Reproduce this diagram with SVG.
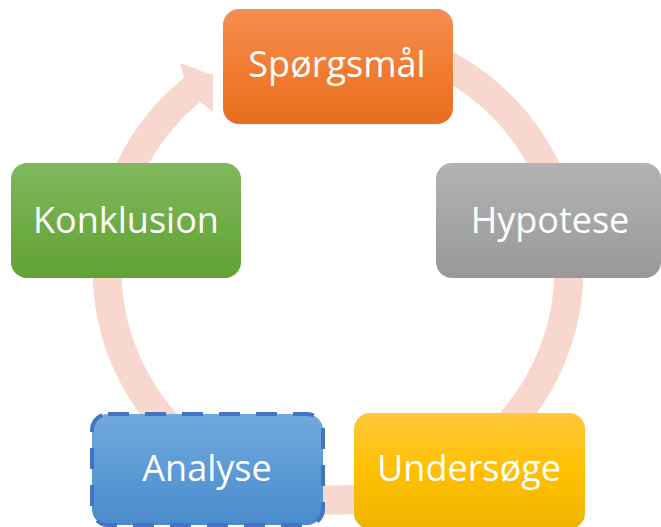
<svg xmlns="http://www.w3.org/2000/svg" width="661" height="527" viewBox="0 0 661 527">
<defs>
<linearGradient id="gOrange" x1="0" y1="0" x2="0" y2="1"><stop offset="0" stop-color="#F48E51"/><stop offset="0.5" stop-color="#F17D32"/><stop offset="1" stop-color="#E86E1E"/></linearGradient>
<linearGradient id="gGrey" x1="0" y1="0" x2="0" y2="1"><stop offset="0" stop-color="#B2B2B2"/><stop offset="0.5" stop-color="#A6A6A6"/><stop offset="1" stop-color="#989898"/></linearGradient>
<linearGradient id="gGreen" x1="0" y1="0" x2="0" y2="1"><stop offset="0" stop-color="#7FB85E"/><stop offset="0.5" stop-color="#70AD47"/><stop offset="1" stop-color="#62A134"/></linearGradient>
<linearGradient id="gBlue" x1="0" y1="0" x2="0" y2="1"><stop offset="0" stop-color="#70A8DD"/><stop offset="0.5" stop-color="#5C9BD6"/><stop offset="1" stop-color="#4A8BCD"/></linearGradient>
<linearGradient id="gYellow" x1="0" y1="0" x2="0" y2="1"><stop offset="0" stop-color="#FFC73D"/><stop offset="0.5" stop-color="#FFC000"/><stop offset="1" stop-color="#EDB400"/></linearGradient>
</defs>
<style>
.ring{fill:none;stroke:#F8D8CE;stroke-width:29}
.head{fill:#F8D8CE}
.lbl{font-family:"Open Sans","Liberation Sans",sans-serif;font-size:36px;fill:#FFFFFF;text-anchor:middle}
</style>
<g id="connectors">
<path class="ring" d="M 358.1 38.9 A 231 231 0 1 1 192.6 89.5"/>
<polygon class="head" points="184.5,80 180,63 213,75 213,112 201,102.5 192,90"/>
</g>
<g id="node-spoergsmaal">
<rect x="223" y="9" width="230" height="115" rx="16" fill="url(#gOrange)"/>
<text class="lbl" x="337" y="77">Spørgsmål</text>
</g>
<g id="node-hypotese">
<rect x="436" y="163" width="225" height="115" rx="16" fill="url(#gGrey)"/>
<text class="lbl" x="550" y="233">Hypotese</text>
</g>
<g id="node-undersoege">
<rect x="354" y="413" width="231" height="116" rx="16" fill="url(#gYellow)"/>
<text class="lbl" x="469" y="481">Undersøge</text>
</g>
<g id="node-analyse">
<rect x="92" y="414" width="231" height="111" rx="16" fill="url(#gBlue)" stroke="#4472C4" stroke-width="4" stroke-dasharray="21 16"/>
<text class="lbl" x="207" y="481">Analyse</text>
</g>
<g id="node-konklusion">
<rect x="11" y="163" width="230" height="115" rx="16" fill="url(#gGreen)"/>
<text class="lbl" x="126" y="233">Konklusion</text>
</g>
</svg>
